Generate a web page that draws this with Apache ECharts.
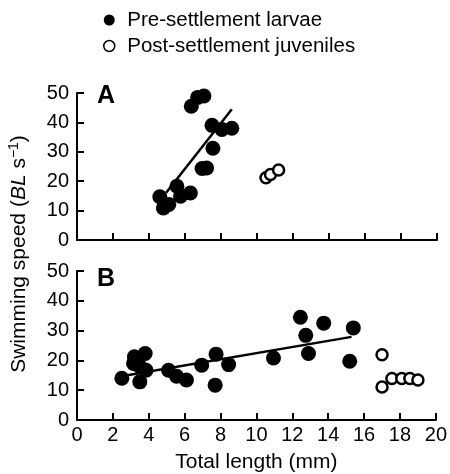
<!DOCTYPE html>
<html>
<head>
<meta charset="utf-8">
<script src="https://cdn.jsdelivr.net/npm/echarts@6/dist/echarts.min.js"></script>
<style>
  html, body { margin: 0; padding: 0; background: #fff; }
  #chart { width: 450px; height: 474px; }
</style>
</head>
<body>
<div id="chart"></div>
<script>
// panel A: [total length (mm), swimming speed (BL/s)]
var preA = [[4.6, 14.7], [4.8, 10.9], [5.1, 12.1], [5.55, 18.3], [5.75, 14.9], [6.3, 16],
  [6.35, 45.5], [6.7, 48.5], [7.05, 49], [7.5, 39], [8.05, 37.6], [8.6, 38],
  [7.55, 31.2], [6.95, 24.3], [7.2, 24.5]];
var postA = [[10.5, 21.2], [10.75, 22.3], [11.2, 23.8]];
var fitA = [[4.95, 16.1], [8.6, 44.5]];

// panel B
var preB = [[2.5, 14], [3.2, 21.2], [3.15, 19], [3.8, 22.3], [3.5, 12.8], [3.85, 16.7], [3.5, 18],
  [5.1, 16.7], [5.55, 14.7], [6.1, 13.4], [6.95, 18.4], [7.75, 22.1], [7.7, 11.7], [8.45, 18.6],
  [10.95, 20.8], [12.45, 34.5], [12.75, 28.4], [12.9, 22.3], [13.75, 32.5], [15.4, 30.9], [15.2, 19.7]];
var postB = [[17, 21.9], [17, 11.1], [17.55, 13.9], [18.1, 13.9], [18.55, 13.9], [19, 13.4]];
var fitB = [[2.8, 15], [15.3, 27.9]];

var seriesNames = ['Pre-settlement larvae', 'Post-settlement juveniles'];

var font = 'Liberation Sans, Arial, Helvetica, sans-serif';
var myChart = echarts.init(document.getElementById('chart'));

function xAxisCfg(idx, showLabels) {
  return {
    gridIndex: idx, type: 'value', min: 0, max: 20, interval: 2,
    axisLine: { lineStyle: { color: '#000', width: 2 } },
    axisTick: { inside: true, length: 7, lineStyle: { color: '#000', width: 2 } },
    axisLabel: { show: showLabels, color: '#000', fontSize: 20, fontFamily: font, margin: 5 },
    splitLine: { show: false },
    name: showLabels ? 'Total length (mm)' : '',
    nameLocation: 'middle', nameGap: 32,
    nameTextStyle: { color: '#000', fontSize: 21, fontFamily: font }
  };
}
function yAxisCfg(idx) {
  return {
    gridIndex: idx, type: 'value', min: 0, max: 50, interval: 10,
    axisLine: { show: true, lineStyle: { color: '#000', width: 2 } },
    axisTick: { show: true, inside: true, length: 7, lineStyle: { color: '#000', width: 2 } },
    axisLabel: { color: '#000', fontSize: 20, fontFamily: font, margin: 8 },
    splitLine: { show: false }
  };
}

var filled = { color: '#000', opacity: 1 };
var open = { color: '#fff', borderColor: '#000', borderWidth: 2.5, opacity: 1 };

var option = {
  animation: false,
  backgroundColor: '#fff',
  legend: {
    orient: 'vertical', left: 98, top: 4, itemGap: 4,
    itemWidth: 26, itemHeight: 11,
    data: [
      { name: seriesNames[0], icon: 'circle' },
      { name: seriesNames[1], icon: 'circle', itemStyle: { color: '#fff', borderColor: '#000', borderWidth: 1.5 } }
    ],
    textStyle: { color: '#000', fontSize: 20.5, fontFamily: font, lineHeight: 22 }
  },
  grid: [
    { left: 77, right: 13, top: 93, height: 147 },
    { left: 77, right: 13, top: 271, height: 149 }
  ],
  xAxis: [xAxisCfg(0, false), xAxisCfg(1, true)],
  yAxis: [yAxisCfg(0), yAxisCfg(1)],
  graphic: [
    { type: 'text', left: 97, top: 84, style: { text: 'A', fontSize: 25, fontWeight: 'bold', fontFamily: font, fill: '#000' } },
    { type: 'text', left: 97, top: 267, style: { text: 'B', fontSize: 25, fontWeight: 'bold', fontFamily: font, fill: '#000' } },
    {
      type: 'text', x: 19, y: 254, rotation: Math.PI / 2,
      style: {
        text: '{n|Swimming speed (}{i|BL}{n| s}{s|−1}{n|)}',
        align: 'center', verticalAlign: 'middle',
        rich: {
          n: { fontSize: 21, fontFamily: font, fill: '#000' },
          i: { fontSize: 21, fontFamily: font, fontStyle: 'italic', fill: '#000' },
          s: { fontSize: 14, fontFamily: font, fill: '#000', verticalAlign: 'top', padding: [0, 0, 10, 0] }
        }
      }
    }
  ],
  series: [
    { name: 'fitA', type: 'line', xAxisIndex: 0, yAxisIndex: 0, data: fitA, symbol: 'none',
      lineStyle: { color: '#000', width: 2.5 }, z: 1 },
    { name: 'fitB', type: 'line', xAxisIndex: 1, yAxisIndex: 1, data: fitB, symbol: 'none',
      lineStyle: { color: '#000', width: 2.5 }, z: 1 },
    { name: seriesNames[0], type: 'scatter', xAxisIndex: 0, yAxisIndex: 0, data: preA,
      symbolSize: 15, itemStyle: filled, z: 3 },
    { name: seriesNames[1], type: 'scatter', xAxisIndex: 0, yAxisIndex: 0, data: postA,
      symbolSize: 11, itemStyle: open, z: 3 },
    { name: seriesNames[0], type: 'scatter', xAxisIndex: 1, yAxisIndex: 1, data: preB,
      symbolSize: 15, itemStyle: filled, z: 3 },
    { name: seriesNames[1], type: 'scatter', xAxisIndex: 1, yAxisIndex: 1, data: postB,
      symbolSize: 11, itemStyle: open, z: 3 }
  ]
};
myChart.setOption(option);
</script>
</body>
</html>
